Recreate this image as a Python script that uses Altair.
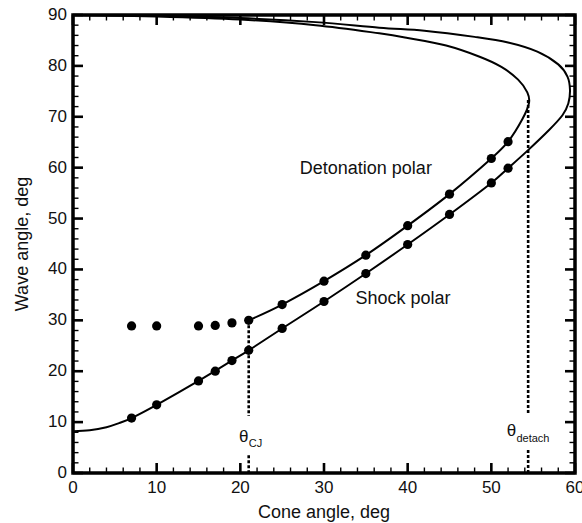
import altair as alt
import pandas as pd

# ---- data ----
shock_x = [0, 2, 4, 5.5, 7, 10, 15, 19, 21, 25, 30, 35, 40, 45, 50, 52, 54.3, 56.9, 58.5, 59.2, 59.4, 59.1, 58.0, 55.5, 52, 48, 42, 36.6, 29, 20, 10, 0]
shock_y = [8.2, 8.4, 9.0, 9.8, 10.8, 13.4, 18.1, 22.1, 24.1, 28.4, 33.7, 39.2, 44.9, 50.8, 57.0, 59.9, 63.3, 67.4, 70.3, 72.6, 75.3, 77.9, 80.3, 82.8, 84.6, 85.7, 86.9, 87.5, 88.6, 89.4, 89.85, 90]

det_x = [21, 25, 30, 35, 40, 45, 50, 52, 53.7, 54.5, 54.3, 53.2, 51.2, 48.6, 44.6, 40, 36.6, 29, 20, 10, 0]
det_y = [30.0, 33.1, 37.7, 42.8, 48.6, 54.8, 61.8, 65.1, 69.5, 72.7, 74.8, 77.3, 79.8, 81.8, 84.0, 85.5, 86.4, 88.0, 89.1, 89.7, 90]

pt_x = [7, 10, 15, 17, 19, 21, 25, 30, 35, 40, 45, 50, 52]
shock_pt_y = [10.8, 13.4, 18.1, 20.0, 22.1, 24.1, 28.4, 33.7, 39.2, 44.9, 50.8, 57.0, 59.9]
det_pt_y = [28.9, 28.9, 28.9, 29.0, 29.5, 30.0, 33.1, 37.7, 42.8, 48.6, 54.8, 61.8, 65.1]

# dotted marker lines (x, top, bottom) -- two segments each
rule_x = [21, 21, 54.4, 54.4]
rule_top = [30.0, 3.5, 73.3, 4.5]
rule_bot = [11.2, 0, 11.4, 0]

# annotation texts
polar_text = ["Detonation polar", "Shock polar"]
polar_tx = [35.0, 39.45]
polar_ty = [59.7, 34.2]

theta_text = ["θ", "θ"]
theta_tx = [20.4, 52.4]
theta_ty = [6.1, 7.3]

sub_text = ["CJ", "detach"]
sub_tx = [21.0, 53.0]
sub_ty = [5.1, 6.1]

x_title = "Cone angle, deg"
y_title = "Wave angle, deg"

major_x = list(range(0, 61, 10))
minor_x = [v for v in range(0, 61, 2) if v % 10]
major_y = list(range(0, 91, 10))
minor_y = [v for v in range(0, 91, 2) if v % 10]

FONT = "Liberation Sans"
INK = "#111111"
W, H = 502, 458
XMAX, YMAX = 60, 90
MAJ, MIN = 10, 5.5          # tick lengths in pixels

shock_df = pd.DataFrame({"x": shock_x, "y": shock_y, "i": range(len(shock_x))})
det_df = pd.DataFrame({"x": det_x, "y": det_y, "i": range(len(det_x))})
pts_df = pd.DataFrame({"x": pt_x + pt_x, "y": shock_pt_y + det_pt_y})
rule_df = pd.DataFrame({"x": rule_x, "y": rule_top, "y2": rule_bot})
polar_df = pd.DataFrame({"x": polar_tx, "y": polar_ty, "t": polar_text})
theta_df = pd.DataFrame({"x": theta_tx, "y": theta_ty, "t": theta_text})
sub_df = pd.DataFrame({"x": sub_tx, "y": sub_ty, "t": sub_text})

XS = alt.Scale(domain=[0, XMAX], nice=False, zero=False)
YS = alt.Scale(domain=[0, YMAX], nice=False, zero=False)


def X(field):
    return alt.X(field, scale=XS, axis=None)


def Y(field):
    return alt.Y(field, scale=YS, axis=None)


# ---- frame decorations: inward ticks on all four sides, positioned by the scales ----
def xticks(values, length, width, top):
    df = pd.DataFrame({"tv": values, "side": "top" if top else "bottom"})
    y0, y1 = (0, length) if top else (H - length, H)
    return alt.Chart(df).mark_rule(color="black", strokeWidth=width, strokeCap="butt").encode(
        x=X("tv:Q"), y=alt.value(y0), y2=alt.value(y1))


def yticks(values, length, width, right):
    df = pd.DataFrame({"tv": values, "side": "right" if right else "left"})
    x0, x1 = (W - length, W) if right else (0, length)
    return alt.Chart(df).mark_rule(color="black", strokeWidth=width, strokeCap="butt").encode(
        y=Y("tv:Q"), x=alt.value(x0), x2=alt.value(x1))


ticks = [
    xticks(major_x, MAJ, 2.6, False), xticks(minor_x, MIN, 1.4, False),
    xticks(major_x, MAJ, 2.6, True), xticks(minor_x, MIN, 1.4, True),
    yticks(major_y, MAJ, 2.6, False), yticks(minor_y, MIN, 1.4, False),
    yticks(major_y, MAJ, 2.6, True), yticks(minor_y, MIN, 1.4, True),
]

shock_line = alt.Chart(shock_df).mark_line(color="black", strokeWidth=2, interpolate="cardinal").encode(
    x=X("x:Q"), y=Y("y:Q"), order="i:Q")
det_line = alt.Chart(det_df).mark_line(color="black", strokeWidth=2, interpolate="cardinal").encode(
    x=X("x:Q"), y=Y("y:Q"), order="i:Q")
points = alt.Chart(pts_df).mark_circle(color="black", size=85, opacity=1).encode(
    x=X("x:Q"), y=Y("y:Q"))
rules = alt.Chart(rule_df).mark_rule(color="black", strokeWidth=2.6, strokeDash=[3, 2]).encode(
    x=X("x:Q"), y=Y("y:Q"), y2="y2:Q")
polar_labels = alt.Chart(polar_df).mark_text(font=FONT, fontSize=18, color=INK, align="center", baseline="middle").encode(
    x=X("x:Q"), y=Y("y:Q"), text="t:N")
theta_labels = alt.Chart(theta_df).mark_text(font=FONT, fontSize=17, color=INK, align="center", baseline="alphabetic").encode(
    x=X("x:Q"), y=Y("y:Q"), text="t:N")
sub_labels = alt.Chart(sub_df).mark_text(font=FONT, fontSize=11, color=INK, align="left", baseline="alphabetic").encode(
    x=X("x:Q"), y=Y("y:Q"), text="t:N")

# tick labels (text marks placed through the scales)
xlab_df = pd.DataFrame({"lv": major_x, "lt": [str(v) for v in major_x]})
ylab_df = pd.DataFrame({"lv": major_y, "lt": [str(v) for v in major_y]})
x_labels = alt.Chart(xlab_df).mark_text(font=FONT, fontSize=17, color=INK, align="center", baseline="top").encode(
    x=X("lv:Q"), y=alt.value(H + 7), text="lt:N")
y_labels = alt.Chart(ylab_df).mark_text(font=FONT, fontSize=17, color=INK, align="right", baseline="middle").encode(
    y=Y("lv:Q"), x=alt.value(-6), text="lt:N")

# axis titles
xt_df = pd.DataFrame({"tt": [x_title]})
yt_df = pd.DataFrame({"tt": [y_title]})
x_title_mark = alt.Chart(xt_df).mark_text(font=FONT, fontSize=18, color=INK, align="center", baseline="alphabetic").encode(
    x=alt.value(W / 2), y=alt.value(H + 45), text="tt:N")
y_title_mark = alt.Chart(yt_df).mark_text(font=FONT, fontSize=18, color=INK, align="center", baseline="alphabetic", angle=270).encode(
    x=alt.value(-45), y=alt.value(H / 2), text="tt:N")

chart = alt.layer(
    *ticks, shock_line, det_line, points, rules, polar_labels, theta_labels, sub_labels,
    x_labels, y_labels, x_title_mark, y_title_mark
).properties(
    width=W, height=H,
    padding={"left": 73, "top": 15, "right": 7, "bottom": 50},
    autosize=alt.AutoSizeParams(type="none"),
    background="white",
).configure_view(stroke="black", strokeWidth=3.5)

chart.save("out.html", embed_options={"renderer": "svg", "actions": False})
